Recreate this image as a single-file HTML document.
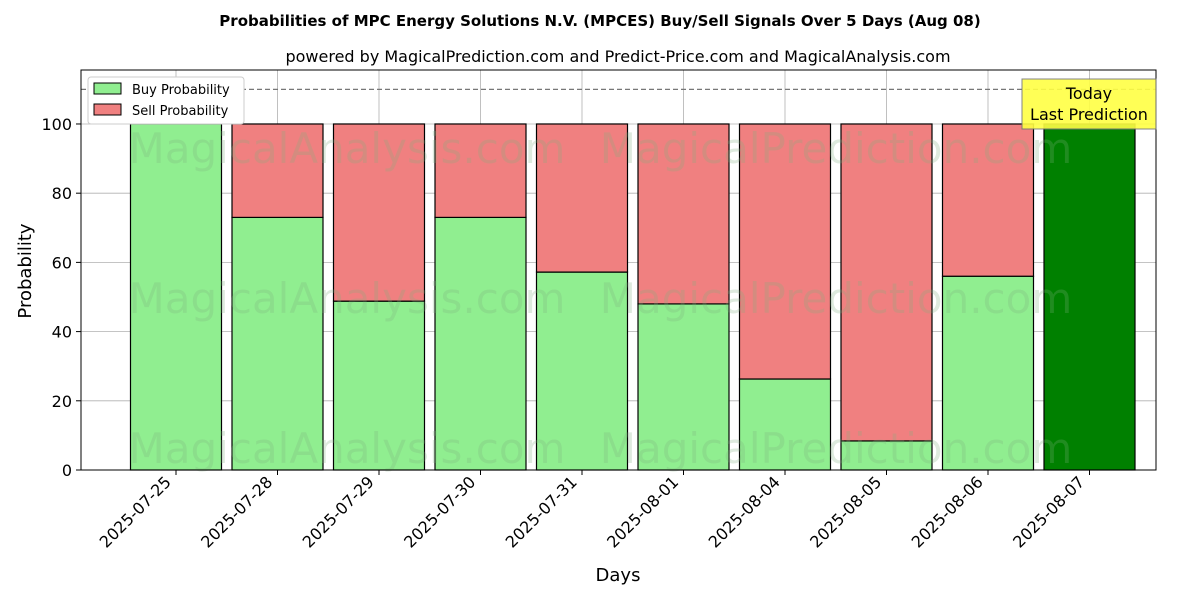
<!DOCTYPE html>
<html><head><meta charset="utf-8"><style>
body{margin:0;background:#fff;}
text{font-family:"DejaVu Sans","Liberation Sans",sans-serif;}
</style></head><body>
<svg id="chart" width="1200" height="600" xmlns="http://www.w3.org/2000/svg">
<text x="600" y="26" text-anchor="middle" font-size="15" font-weight="bold">Probabilities of MPC Energy Solutions N.V. (MPCES) Buy/Sell Signals Over 5 Days (Aug 08)</text>
<text x="618" y="62" text-anchor="middle" font-size="16">powered by MagicalPrediction.com and Predict-Price.com and MagicalAnalysis.com</text>
<g id="grid"></g>
<g id="bars"></g>
<g id="wm" fill="#7fb07f" opacity="0.25" font-size="42">
<text x="347" y="163" text-anchor="middle">MagicalAnalysis.com</text>
<text x="836" y="163" text-anchor="middle">MagicalPrediction.com</text>
<text x="347" y="313" text-anchor="middle">MagicalAnalysis.com</text>
<text x="836" y="313" text-anchor="middle">MagicalPrediction.com</text>
<text x="347" y="463" text-anchor="middle">MagicalAnalysis.com</text>
<text x="836" y="463" text-anchor="middle">MagicalPrediction.com</text>
</g>
<g id="axes"></g>
<text x="618" y="581" text-anchor="middle" font-size="18">Days</text>
<text transform="translate(31,271) rotate(-90)" text-anchor="middle" font-size="18">Probability</text>
<g>
<rect x="88" y="77" width="156" height="47" fill="#fff" stroke="#ccc" rx="3"/>
<rect x="94" y="83" width="27" height="11" fill="#90ee90" stroke="#000"/>
<text x="132" y="94" font-size="13">Buy Probability</text>
<rect x="94" y="104" width="27" height="11" fill="#f08080" stroke="#000"/>
<text x="132" y="115" font-size="13">Sell Probability</text>
</g>
<g>
<rect x="1022" y="79" width="134" height="50" fill="#ffff44" stroke="#777" opacity="0.9"/>
<text x="1089" y="99" text-anchor="middle" font-size="16">Today</text>
<text x="1089" y="120" text-anchor="middle" font-size="16">Last Prediction</text>
</g>
</svg>
<script>
const categories=["2025-07-25","2025-07-28","2025-07-29","2025-07-30","2025-07-31","2025-08-01","2025-08-04","2025-08-05","2025-08-06","2025-08-07"];
const buyValues=[100,73,48.8,73,57.2,48,26.3,8.4,56,100];
const yTicks=[0,20,40,60,80,100];
const NS="http://www.w3.org/2000/svg";
const L=81,R=1156,T=70,B=470,yMax=115.6;
const xs=i=>176+i*101.5;
const ys=v=>B-(B-T)*v/yMax;
function mk(tag,attrs,parent){const e=document.createElementNS(NS,tag);for(const k in attrs)e.setAttribute(k,attrs[k]);parent.appendChild(e);return e;}
const grid=document.getElementById('grid'),bars=document.getElementById('bars'),axes=document.getElementById('axes');
yTicks.forEach(t=>{const y=ys(t);
 const g=mk('line',{x1:L,x2:R,y1:y,y2:y,stroke:'#b0b0b0','stroke-width':0.8},grid);
 
 
 mk('line',{x1:L-5,x2:L,y1:y,y2:y,stroke:'#000'},axes);
 const tx=mk('text',{x:L-9,y:y+6,'text-anchor':'end','font-size':16},axes);tx.textContent=t;
 
 
});
categories.forEach((c,i)=>{const x=xs(i);
 const g=mk('line',{x1:x,x2:x,y1:T,y2:B,stroke:'#b0b0b0','stroke-width':0.8},grid);
 
 
 const w=91,last=i===categories.length-1,b=buyValues[i];
 const rb=mk('rect',{x:x-w/2,y:ys(b),width:w,height:ys(0)-ys(b),fill:last?'#008000':'#90ee90',stroke:'#000','stroke-width':1.2},bars);
 
 
 if(100-b>0){const rs=mk('rect',{x:x-w/2,y:ys(100),width:w,height:ys(b)-ys(100),fill:'#f08080',stroke:'#000','stroke-width':1.2},bars);
 
 }
 mk('line',{x1:x,x2:x,y1:B,y2:B+5,stroke:'#000'},axes);
 const tx=mk('text',{transform:`translate(${x-4},${B+13}) rotate(-45)`,'text-anchor':'end','font-size':16},axes);tx.textContent=c;
 
 
});
const dl=mk('line',{x1:L,x2:R,y1:ys(110),y2:ys(110),stroke:'#777','stroke-dasharray':'5,3','stroke-width':1.2},bars);


const fr=mk('rect',{x:L,y:T,width:R-L,height:B-T,fill:'none',stroke:'#000','stroke-width':1},axes);


</script>
</body></html>
